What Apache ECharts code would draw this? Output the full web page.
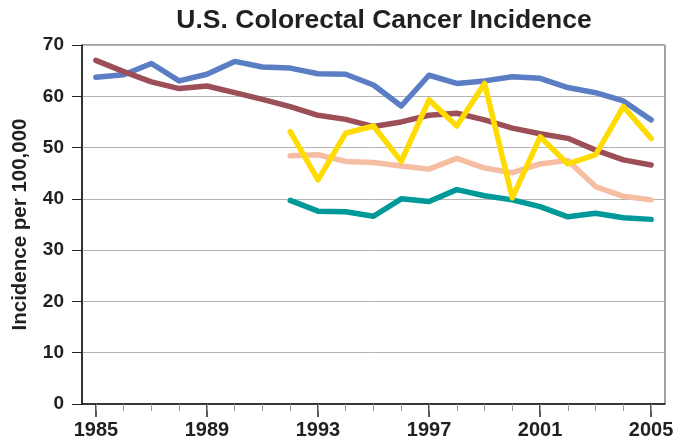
<!DOCTYPE html>
<html>
<head>
<meta charset="utf-8">
<script src="https://cdn.jsdelivr.net/npm/echarts@6/dist/echarts.min.js"></script>
<style>
  html, body { margin: 0; padding: 0; background: #fff; }
  #chart { width: 686px; height: 442px; }
</style>
</head>
<body>
<div id="chart"></div>
<script>
// years on the x axis
const years = ['1985', '1986', '1987', '1988', '1989', '1990', '1991', '1992', '1993', '1994',
  '1995', '1996', '1997', '1998', '1999', '2000', '2001', '2002', '2003', '2004', '2005']

// series values (null = no data yet)
const blueLine = [63.7, 64.2, 66.4, 63.0, 64.3, 66.8, 65.7, 65.5, 64.4, 64.3,
  62.2, 58.1, 64.1, 62.5, 63.0, 63.8, 63.5, 61.7, 60.7, 59.1, 55.4]
const maroonLine = [67.0, 64.8, 62.8, 61.5, 62.0, 60.7, 59.4, 58.0, 56.3, 55.5,
  54.1, 55.0, 56.3, 56.7, 55.4, 53.8, 52.7, 51.8, 49.5, 47.6, 46.6]
const tealLine = [null, null, null, null, null, null, null, 39.7, 37.6, 37.5,
  36.6, 40.0, 39.5, 41.8, 40.6, 39.8, 38.5, 36.5, 37.2, 36.3, 36.0]
const pinkLine = [null, null, null, null, null, null, null, 48.4, 48.6, 47.3,
  47.1, 46.4, 45.8, 47.9, 46.0, 45.1, 46.8, 47.5, 42.4, 40.5, 39.8]
const yellowLine = [null, null, null, null, null, null, null, 53.1, 43.7, 52.8,
  54.2, 47.3, 59.3, 54.2, 62.5, 40.2, 52.1, 46.8, 48.6, 58.0, 51.8]

const textColor = '#231f20'
const font = 'Liberation Sans, Arial, sans-serif'

const chart = echarts.init(document.getElementById('chart'), null, { renderer: 'canvas' })

function lineSeries(data, color) {
  return {
    type: 'line',
    data: data,
    symbol: 'none',
    lineStyle: { color: color, width: 5.5, cap: 'round', join: 'round' },
    itemStyle: { color: color },
    animation: false
  }
}

const option = {
  backgroundColor: '#fff',
  title: {
    text: 'U.S. Colorectal Cancer Incidence',
    left: 379,
    top: 2,
    textAlign: 'center',
    textStyle: { fontFamily: font, fontSize: 26.5, fontWeight: 'bold', color: textColor }
  },
  grid: {
    left: 82,
    right: 21,
    top: 45,
    bottom: 38,
    show: true,
    borderColor: '#444',
    borderWidth: 1
  },
  xAxis: [{
    type: 'category',
    data: years,
    position: 'bottom',
    boundaryGap: true,
    axisLine: { lineStyle: { color: '#111', width: 1.5 } },
    axisTick: { show: true, interval: 3, alignWithLabel: true, length: 13, lineStyle: { color: '#222', width: 1.5 } },
    axisLabel: {
      interval: 3, margin: 16,
      fontFamily: font, fontSize: 20, fontWeight: 'bold', color: textColor
    },
    splitLine: { show: false }
  }, {
    // minor yearly ticks
    type: 'category',
    data: years,
    position: 'bottom',
    offset: 0,
    boundaryGap: true,
    axisLine: { show: false },
    axisTick: { show: true, interval: 0, alignWithLabel: true, length: 7, lineStyle: { color: '#999', width: 1 } },
    axisLabel: { show: false },
    splitLine: { show: false }
  }],
  yAxis: {
    type: 'value',
    min: 0,
    max: 70,
    interval: 10,
    name: 'Incidence per 100,000',
    nameLocation: 'middle',
    nameGap: 51,
    nameRotate: 90,
    nameTextStyle: { fontFamily: font, fontSize: 20.5, fontWeight: 'bold', color: textColor },
    axisLine: { show: true, lineStyle: { color: '#111', width: 1.5 } },
    axisTick: { show: true, length: 10, lineStyle: { color: '#222' } },
    axisLabel: { margin: 18, fontFamily: font, fontSize: 19, fontWeight: 'bold', color: textColor },
    splitLine: { lineStyle: { color: '#b4b4b4', width: 1 } }
  },
  series: [
    lineSeries(blueLine, '#5a7dc4'),
    lineSeries(maroonLine, '#9c4f57'),
    lineSeries(tealLine, '#009999'),
    lineSeries(pinkLine, '#f5bea3'),
    lineSeries(yellowLine, '#ffdc00')
  ]
}

chart.setOption(option)
</script>
</body>
</html>
